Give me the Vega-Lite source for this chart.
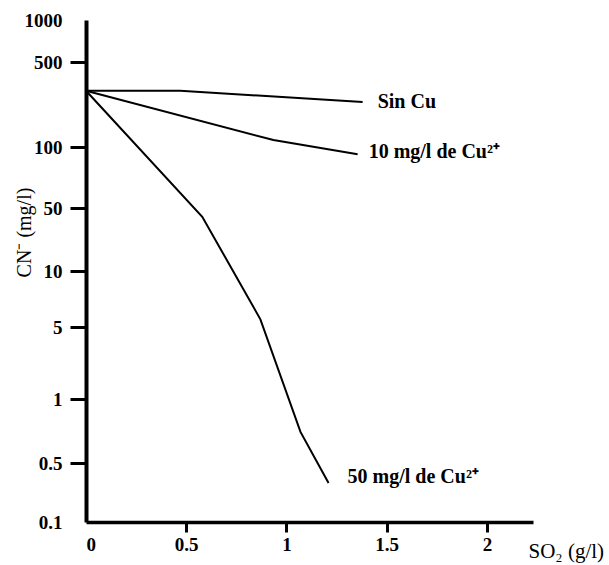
{
  "$schema": "https://vega.github.io/schema/vega-lite/v6.json",
  "width": 447,
  "height": 502,
  "autosize": {"type": "none"},
  "padding": {"left": 86, "top": 20, "right": 76, "bottom": 43},
  "background": "white",
  "config": {
    "view": {"stroke": null},
    "font": "Liberation Serif"
  },
  "datasets": {
    "curves": [
      {"series": "Sin Cu", "x": 0, "y": 290},
      {"series": "Sin Cu", "x": 0.47, "y": 290},
      {"series": "Sin Cu", "x": 1.38, "y": 234},
      {"series": "10 mg/l", "x": 0, "y": 290},
      {"series": "10 mg/l", "x": 0.935, "y": 114},
      {"series": "10 mg/l", "x": 1.355, "y": 92},
      {"series": "50 mg/l", "x": 0, "y": 290},
      {"series": "50 mg/l", "x": 0.58, "y": 40},
      {"series": "50 mg/l", "x": 0.87, "y": 5.5},
      {"series": "50 mg/l", "x": 1.07, "y": 0.7},
      {"series": "50 mg/l", "x": 1.21, "y": 0.29}
    ],
    "labels": [
      {"label": "Sin Cu", "x": 1.455, "y": 234},
      {"label": "10 mg/l de Cu²⁺", "x": 1.41, "y": 95},
      {"label": "50 mg/l de Cu²⁺", "x": 1.305, "y": 0.34}
    ]
  },
  "layer": [
    {
      "data": {"name": "curves"},
      "mark": {"type": "line", "color": "black", "strokeWidth": 2},
      "encoding": {
        "x": {
          "field": "x", "type": "quantitative",
          "scale": {"domain": [0, 2.23], "nice": false, "zero": false},
          "axis": {
            "values": [0, 0.5, 1, 1.5, 2],
            "labelExpr": "'' + datum.value",
            "grid": false,
            "domainColor": "black", "domainWidth": 3.5,
            "tickColor": "black", "tickWidth": 3, "tickSize": 10,
            "tickOpacity": {"condition": {"test": "datum.value == 0", "value": 0}, "value": 1},
            "labelFont": "Liberation Serif", "labelFontWeight": "bold", "labelFontSize": 19,
            "labelColor": "black", "labelPadding": 3,
            "title": "SO₂ (g/l)",
            "titleFont": "Liberation Serif", "titleFontWeight": "normal", "titleFontSize": 21,
            "titleColor": "#000000",
            "titleX": 442, "titleY": 29, "titleAlign": "left", "titleBaseline": "middle",
            "titleAngle": 0
          }
        },
        "y": {
          "field": "y", "type": "quantitative",
          "scale": {
            "type": "log",
            "domain": [0.1, 0.5, 1, 5, 10, 50, 100, 500, 1000],
            "range": [502, 443, 379, 307, 251, 188, 127, 42, 0],
            "nice": false, "zero": false
          },
          "axis": {
            "values": [0.1, 0.5, 1, 5, 10, 50, 100, 500, 1000],
            "labelExpr": "'' + datum.value",
            "grid": false,
            "domainColor": "black", "domainWidth": 4,
            "tickColor": "black", "tickWidth": 3, "tickSize": 16,
            "tickOpacity": {"condition": {"test": "datum.value == 0.1 || datum.value == 1000", "value": 0}, "value": 1},
            "labelFont": "Liberation Serif", "labelFontWeight": "bold", "labelFontSize": 19,
            "labelColor": "black", "labelPadding": 8,
            "title": "CN⁻ (mg/l)",
            "titleFont": "Liberation Serif", "titleFontWeight": "normal", "titleFontSize": 20,
            "titleColor": "#000000",
            "titleX": -62, "titleY": 212, "titleAlign": "center", "titleBaseline": "middle",
            "titleAngle": -90
          }
        },
        "detail": {"field": "series"}
      }
    },
    {
      "data": {"name": "labels"},
      "mark": {"type": "text", "align": "left", "baseline": "middle", "font": "Liberation Serif", "fontWeight": "bold", "fontSize": 20, "color": "black"},
      "encoding": {
        "x": {"field": "x", "type": "quantitative"},
        "y": {"field": "y", "type": "quantitative"},
        "text": {"field": "label"}
      }
    },
    {
      "mark": {"type": "rule", "color": "black", "strokeWidth": 4},
      "encoding": {"y": {"datum": 1000}}
    }
  ]
}
